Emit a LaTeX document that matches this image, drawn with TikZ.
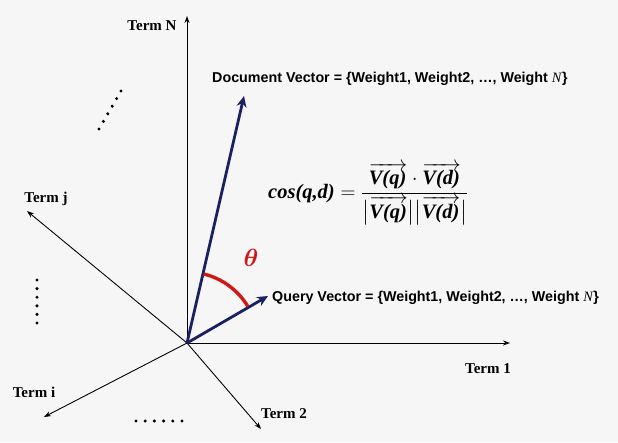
\documentclass[tikz,border=0pt]{standalone}
\usepackage{fontspec}
\usepackage{amsmath}
\setmainfont{Liberation Serif}
\newfontfamily\arialf{Liberation Sans}
\usetikzlibrary{arrows.meta,calc}
\definecolor{bg}{HTML}{F6F6F6}
\definecolor{vecc}{HTML}{1B2160}
\definecolor{thetac}{HTML}{D01818}
\tikzset{
  axis/.style={line width=0.9pt, -{Stealth[length=7pt,width=5pt]}},
  vecline/.style={line width=2.8pt, vecc, -{Stealth[length=11pt,width=10pt]}},
  termlbl/.style={font=\fontsize{15}{17}\selectfont\bfseries, inner sep=1pt},
  veclbl/.style={font=\arialf\fontsize{14.3}{16}\selectfont\bfseries, inner sep=1pt, anchor=west},
  dotstyle/.style={fill=black, circle, inner sep=0pt, minimum size=3.4pt}
}
\newcommand{\vq}{\overrightarrow{\text{\bfseries\itshape V(q)\kern1pt}}}
\newcommand{\vd}{\overrightarrow{\text{\bfseries\itshape V(d)\kern1pt}}}
\begin{document}
\begin{tikzpicture}[x=1pt,y=-1pt]
\fill[bg] (0,0) rectangle (618,442);
\useasboundingbox (0,0) rectangle (618,442);
\coordinate (O) at (187,343);
\coordinate (tN) at (187,16);
\coordinate (t1) at (510,343);
\coordinate (t2) at (261,429);
\coordinate (ti) at (44,417);
\coordinate (tj) at (27,211);
\coordinate (dv) at (244,96);
\coordinate (qv) at (268,296);
\draw[axis] (O) -- (tN);
\draw[axis] (O) -- (t1);
\draw[axis] (O) -- (t2);
\draw[axis] (O) -- (ti);
\draw[axis] (O) -- (tj);
\node[termlbl] (lN) at (152,26) {Term N};
\node[termlbl] (l1) at (488,369) {Term 1};
\node[termlbl] (l2) at (284,414) {Term 2};
\node[termlbl] (li) at (34,392) {Term i};
\node[termlbl] (lj) at (46,199) {Term j};
\draw[vecline] (O) -- (dv);
\draw[vecline] (O) -- (qv);
\node[veclbl] (dl) at (211,79) {Document Vector = \{Weight1, Weight2, \ldots, Weight \textrm{\itshape\mdseries N}\}};
\node[veclbl] (ql) at (271,298) {Query Vector = \{Weight1, Weight2, \ldots, Weight \textrm{\itshape\mdseries N}\}};
% theta arc
\draw[thetac, line width=3.4pt] ($(O)+(-76.5:71)$) arc[start angle=-76.5, end angle=-31, radius=71];
\node[text=thetac, font=\fontsize{25}{27}\selectfont] (th) at (251,258) {$\boldsymbol{\theta}$};
% formula
\node[anchor=west, inner sep=0pt, font=\fontsize{20.5}{23}\selectfont] (fm) at (268,194)
 {\textbf{\textit{cos(q,d)}}${}=\dfrac{\vq\cdot\vd}{\rule[-6pt]{0pt}{24pt}\bigl|\vq\bigr|\bigl|\vd\bigr|}$};
% dots
\foreach \i in {0,...,5} { \node[dotstyle] at (136+9.2*\i,421) {}; }
\foreach \i in {0,...,5} { \node[dotstyle] at (37,280+8.6*\i) {}; }
\foreach \i in {0,...,5} { \node[dotstyle] at (99+4.4*\i,129-7.6*\i) {}; }
\end{tikzpicture}
\end{document}
